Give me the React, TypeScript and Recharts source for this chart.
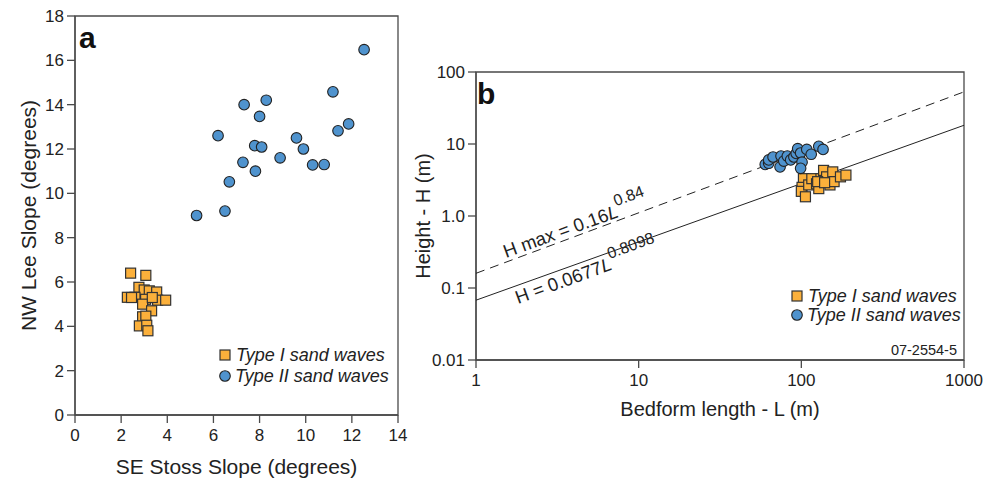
import React from 'react'
import { ScatterChart, Scatter, XAxis, YAxis, ReferenceArea, Label } from 'recharts'

const FONT = '"Liberation Sans", Arial, Helvetica, sans-serif'

// panel a: stoss vs lee slope (degrees)
const typeIStoss = [2.41, 3.07, 2.77, 3.0, 3.22, 3.54, 2.27, 2.6, 3.06, 3.58, 3.93, 2.93, 3.32, 2.93, 3.07, 2.79, 3.11, 3.16, 2.45, 3.35]
const typeILee = [6.4, 6.3, 5.76, 5.64, 5.6, 5.55, 5.31, 5.31, 5.22, 5.18, 5.18, 5.0, 4.7, 4.43, 4.46, 4.02, 4.05, 3.8, 5.3, 5.3]
const typeIIStoss = [5.27, 6.5, 6.69, 6.2, 7.33, 7.28, 7.82, 7.79, 8.09, 8.0, 8.29, 8.89, 9.6, 9.9, 10.3, 10.8, 11.18, 11.4, 11.86, 12.53]
const typeIILee = [9.0, 9.2, 10.52, 12.6, 14.0, 11.4, 11.0, 12.15, 12.09, 13.47, 14.2, 11.6, 12.5, 12.0, 11.28, 11.3, 14.58, 12.82, 13.13, 16.48]

// panel b: bedform length (m) vs height (m)
const typeILength = [103, 101, 100, 106, 111, 116, 124, 128, 132, 137, 143, 150, 156, 159, 174, 188, 126, 139]
const typeIHeight = [3.3, 2.5, 2.2, 1.85, 2.7, 3.3, 2.8, 2.4, 3.3, 4.3, 3.5, 2.7, 4.1, 3.0, 3.5, 3.7, 3.0, 2.9]
const typeIILength = [60, 63, 63, 67, 74, 75, 78, 82, 86, 90, 93, 95, 99, 101, 99, 108, 115, 128, 136]
const typeIIHeight = [5.2, 5.4, 6.0, 6.6, 4.8, 6.8, 5.8, 6.8, 6.0, 6.6, 7.4, 8.6, 7.5, 5.6, 4.6, 8.4, 7.2, 9.3, 8.4]

// fit lines, end points at L = 1 and L = 1000
const fitLength = [1, 1000]
const meanFitHeight = [0.0677, 18.2]
const maxFitHeight = [0.16, 53]

const slopeTicksX = [0, 2, 4, 6, 8, 10, 12, 14]
const slopeTicksY = [0, 2, 4, 6, 8, 10, 12, 14, 16, 18]
const lengthTicks = [1, 10, 100, 1000]
const heightTicks = [0.01, 0.1, 1, 10, 100]

const ORANGE = '#FBB03B'
const BLUE = '#4F93CE'
const AXIS = '#4a4a4a'

const zip = (xs: number[], ys: number[]) => xs.map((x, i) => ({ x, y: ys[i] }))

const Square = (p: any) => (
  <rect x={p.cx - 5} y={p.cy - 5} width={10} height={10} fill={ORANGE} stroke="#333" strokeWidth={1.2} />
)
const Dot = (p: any) => (
  <circle cx={p.cx} cy={p.cy} r={5.3} fill={BLUE} stroke="#222" strokeWidth={1.1} />
)
const NoShape = () => <g />

const tickStyle = { fontSize: 17, fill: '#222', fontFamily: FONT }
const titleA = { fontSize: 21, fill: '#222', fontFamily: FONT }
const titleB = { fontSize: 20, fill: '#222', fontFamily: FONT }

function Legend({ x, y, gap }: { x: number; y: number; gap: number }) {
  return (
    <g fontFamily={FONT} fontSize={18} fontStyle="italic" fill="#222">
      <rect x={x - 5} y={y - 5} width={10} height={10} fill={ORANGE} stroke="#333" strokeWidth={1.2} />
      <text x={x + 11} y={y + 6}>Type I sand waves</text>
      <circle cx={x} cy={y + gap} r={5.3} fill={BLUE} stroke="#222" strokeWidth={1.1} />
      <text x={x + 10} y={y + gap + 6}>Type II sand waves</text>
    </g>
  )
}

export default function App() {
  return (
    <div style={{ position: 'absolute', left: 0, top: 0, width: 999, height: 482, background: '#fff' }}>
      {/* panel a */}
      <div style={{ position: 'absolute', left: 0, top: 0 }}>
        <ScatterChart width={415} height={482} margin={{ top: 16, right: 17, bottom: 37, left: 30 }}>
          <XAxis
            type="number" dataKey="x" domain={[0, 14]} ticks={slopeTicksX} interval={0}
            stroke={AXIS} strokeWidth={1.3} tickSize={8} tickMargin={6} height={30} tick={tickStyle}
          >
            <Label value="SE Stoss Slope (degrees)" position="bottom" offset={14} style={titleA} />
          </XAxis>
          <YAxis
            type="number" dataKey="y" domain={[0, 18]} ticks={slopeTicksY} interval={0}
            stroke={AXIS} strokeWidth={1.3} tickSize={8} tickMargin={3} width={45} tick={tickStyle}
          >
            <Label value="NW Lee Slope (degrees)" angle={-90} position="center" dx={-24} style={titleA} />
          </YAxis>
          <ReferenceArea x1={0} x2={14} y1={0} y2={18} fill="none" stroke={AXIS} strokeWidth={1.3} />
          <Scatter data={zip(typeIStoss, typeILee)} shape={Square} isAnimationActive={false} />
          <Scatter data={zip(typeIIStoss, typeIILee)} shape={Dot} isAnimationActive={false} />
        </ScatterChart>
      </div>

      {/* panel b */}
      <div style={{ position: 'absolute', left: 410, top: 0 }}>
        <ScatterChart width={589} height={482} margin={{ top: 72, right: 35, bottom: 92, left: 20 }}>
          <XAxis
            type="number" dataKey="x" scale="log" domain={[1, 1000]} ticks={lengthTicks} interval={0}
            allowDataOverflow stroke={AXIS} strokeWidth={1.3} tickSize={8} tickMargin={6} height={30} tick={tickStyle}
          >
            <Label value="Bedform length - L (m)" position="bottom" offset={12} style={titleB} />
          </XAxis>
          <YAxis
            type="number" dataKey="y" scale="log" domain={[0.01, 100]} ticks={heightTicks} interval={0}
            allowDataOverflow stroke={AXIS} strokeWidth={1.3} tickSize={8} tickMargin={3} width={46} tick={tickStyle}
            tickFormatter={(v: number) => (v === 1 ? '1.0' : String(v))}
          >
            <Label value="Height - H (m)" angle={-90} position="center" dx={-30} style={titleB} />
          </YAxis>
          <ReferenceArea x1={1} x2={1000} y1={0.01} y2={100} fill="none" stroke={AXIS} strokeWidth={1.3} />
          <Scatter data={zip(fitLength, maxFitHeight)} shape={NoShape} line={{ stroke: '#222', strokeWidth: 1, strokeDasharray: '9 6' }} isAnimationActive={false} />
          <Scatter data={zip(fitLength, meanFitHeight)} shape={NoShape} line={{ stroke: '#222', strokeWidth: 1 }} isAnimationActive={false} />
          <Scatter data={zip(typeILength, typeIHeight)} shape={Square} isAnimationActive={false} />
          <Scatter data={zip(typeIILength, typeIIHeight)} shape={Dot} isAnimationActive={false} />
        </ScatterChart>
      </div>

      {/* annotations */}
      <svg width={999} height={482} style={{ position: 'absolute', left: 0, top: 0, pointerEvents: 'none' }}>
        <text x={79} y={48} fontFamily={FONT} fontSize={30} fontWeight="bold" fill="#111">a</text>
        <text x={477} y={104} fontFamily={FONT} fontSize={30} fontWeight="bold" fill="#111">b</text>
        <Legend x={225} y={355} gap={21} />
        <Legend x={797} y={296} gap={19} />
        <g fontFamily={FONT} fontSize={18.5} fill="#222">
          <text transform="translate(506,258) rotate(-20)">
            H max = 0.16<tspan fontStyle="italic">L</tspan>
            <tspan dy={-11} fontSize={16}>0.84</tspan>
          </text>
          <text transform="translate(518,304) rotate(-20)">
            H = 0.0677<tspan fontStyle="italic">L</tspan>
            <tspan dy={-11} fontSize={16}>0.8098</tspan>
          </text>
        </g>
        <text x={957} y={355} textAnchor="end" fontFamily={FONT} fontSize={14.5} fill="#222">07-2554-5</text>
      </svg>
    </div>
  )
}
